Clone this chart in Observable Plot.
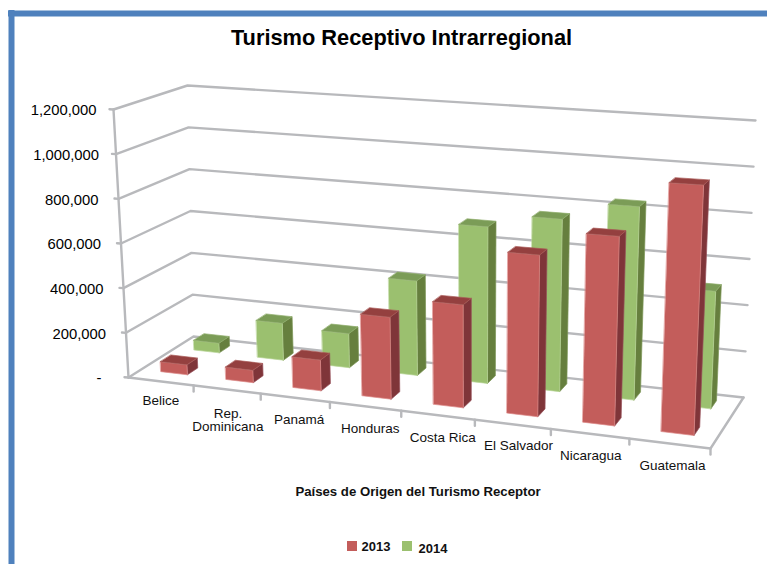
<!DOCTYPE html>
<html><head><meta charset="utf-8">
<script src="https://cdn.jsdelivr.net/npm/d3@7"></script>
<script src="https://cdn.jsdelivr.net/npm/@observablehq/plot@0.6"></script>
<style>html,body{margin:0;padding:0;background:#fff}svg{display:block}</style>
</head><body><div id="chart"></div>
<script>
const paises = ["Belice","Rep.\nDominicana","Panamá","Honduras","Costa Rica","El Salvador","Nicaragua","Guatemala"];
const valores2013 = [45000,55000,135000,355000,440000,680000,785000,1020000];
const valores2014 = [45000,170000,155000,425000,695000,755000,835000,500000];
const ticksValor = [0,200000,400000,600000,800000,1000000,1200000];
const vMax = 1200000;

// caja 3D: esquinas del suelo y del techo en pantalla
const suelo = [[128,377],[710,448],[743,397],[193,336]];
const techo = [[113,109],[722,147],[755,120],[187,85]];
function homog(q){
  const [[x0,y0],[x1,y1],[x2,y2],[x3,y3]] = q;
  const dx1=x1-x2,dx2=x3-x2,sx=x0-x1+x2-x3,dy1=y1-y2,dy2=y3-y2,sy=y0-y1+y2-y3;
  const den=dx1*dy2-dx2*dy1, g=(sx*dy2-dx2*sy)/den, h=(dx1*sy-sx*dy1)/den;
  const a=x1-x0+g*x1,b=x3-x0+h*x3,d=y1-y0+g*y1,e=y3-y0+h*y3;
  return (u,v)=>{const w=g*u+h*v+1;return [(a*u+b*v+x0)/w,(d*u+e*v+y0)/w];};
}
const H0=homog(suelo),H1=homog(techo);
const proj=(c,v,val)=>{const t=val/vMax,a=H0(c/8,v),b=H1(c/8,v);return [a[0]+(b[0]-a[0])*t,a[1]+(b[1]-a[1])*t];};
// barras: las verticales convergen hacia un punto de fuga bajo el gráfico
const fuga=[470,6300];
const projBarra=(c,v,val)=>{
  const F=H0(c/8,v),y=proj(c,v,val)[1];
  return [F[0]+(F[0]-fuga[0])*(F[1]-y)/(fuga[1]-F[1]),y];
};

function caras(vals,u0,u1,v0,v1,pre){
  const front=[],side=[],top=[];
  const add=(arr,k,pts)=>pts.forEach(p=>{const [x,y]=projBarra(...p);arr.push({x,y,k});});
  vals.forEach((val,i)=>{
    const a=i+u0,b=i+u1;
    add(front,pre+i,[[a,v0,0],[b,v0,0],[b,v0,val],[a,v0,val]]);
    add(side,pre+i,[[b,v0,0],[b,v1,0],[b,v1,val],[b,v0,val]]);
    add(top,pre+i,[[a,v0,val],[b,v0,val],[b,v1,val],[a,v1,val]]);
  });
  return {front,side,top};
}
const rojo=caras(valores2013,0.305,0.715,0.19,0.35,"r");
const verde=caras(valores2014,0.30,0.70,0.71,0.88,"g");
const cara=(d,fill,edge)=>Plot.line(d,{x:"x",y:"y",z:"k",fill,stroke:edge,strokeWidth:0.7,curve:"linear-closed"});

// rejilla
const rejilla=[];
ticksValor.forEach(t=>{[[0,0],[0,1],[8,1]].forEach(([c,v])=>{const [x,y]=proj(c,v,t);rejilla.push({x,y,k:"g"+t});});});
[[0,0],[8,0],[8,1]].forEach(([c,v])=>{const [x,y]=proj(c,v,0);rejilla.push({x,y,k:"base"});});
[0,vMax].forEach(t=>{const [x,y]=proj(0,0,t);rejilla.push({x,y,k:"eje"});});
ticksValor.forEach(t=>{const [x,y]=proj(0,0,t);rejilla.push({x:x-4,y:y-0.3,k:"t"+t},{x,y,k:"t"+t});});
d3.range(1,9).forEach(i=>{const [x,y]=proj(i,0,0);rejilla.push({x,y,k:"c"+i},{x,y:y+6,k:"c"+i});});

const etiquetasY=ticksValor.map(t=>{const [x,y]=proj(0,0,t);
  return {x:t===0?101:x-17-(t<1000000?3:0),y:y+1,t:t===0?"-":d3.format(",")(t)};});
const ajusteX=[0,1,4,5,5,6,1,3],ajusteY=[3,3,4,4,4,2,2,1];
const etiquetasX=paises.map((p,i)=>{const [x,y]=proj(i+0.5,0,0);
  return {x:x+ajusteX[i],y:y+16+0.7*i+(i===1?11:0)+ajusteY[i],p};});
const azul="#4f81bd",f="Liberation Sans, Arial, sans-serif";

const chart=Plot.plot({
  width:767,height:564,margin:0,
  x:{domain:[0,767],range:[0,767],axis:null},
  y:{domain:[0,564],range:[0,564],axis:null},
  style:{background:"#fff",fontFamily:f},
  marks:[
    Plot.ruleY([13],{x1:8,x2:767,stroke:azul,strokeWidth:6}),
    Plot.ruleX([11],{y1:10,y2:564,stroke:azul,strokeWidth:6}),
    Plot.text(["Turismo Receptivo Intrarregional"],{x:()=>401,y:()=>38,fontSize:21.8,fontWeight:"bold",fill:"#000"}),
    Plot.line(rejilla,{x:"x",y:"y",z:"k",stroke:"#b8b9bc",strokeWidth:2.4}),
    cara(verde.side,"#667f3e","#7d9658"),cara(verde.front,"#9bc06f","#b7d496"),cara(verde.top,"#7b9c57","#8fae6c"),
    cara(rojo.side,"#7f3539","#97505a"),cara(rojo.front,"#c35d5b","#dc8a88"),cara(rojo.top,"#94403f","#a95a58"),
    Plot.text(etiquetasY,{x:"x",y:"y",text:"t",textAnchor:"end",fontSize:14.8,fill:"#000"}),
    Plot.text(etiquetasX,{x:"x",y:"y",text:"p",fontSize:13.5,fill:"#111"}),
    Plot.text(["Países de Origen del Turismo Receptor"],{x:()=>417.5,y:()=>491,fontSize:13.2,fontWeight:"bold",fill:"#111"}),
    Plot.rect([0],{x1:()=>347,x2:()=>357,y1:()=>541,y2:()=>551,fill:"#c35d5b"}),
    Plot.rect([0],{x1:()=>402,x2:()=>412,y1:()=>541,y2:()=>551,fill:"#9bc06f"}),
    Plot.text(["2013"],{x:()=>361,y:()=>546,textAnchor:"start",fontSize:13,fontWeight:"bold",fill:"#111"}),
    Plot.text(["2014"],{x:()=>418,y:()=>548,textAnchor:"start",fontSize:13,fontWeight:"bold",fill:"#111"})
  ]
});
document.getElementById("chart").appendChild(chart);
</script></body></html>
